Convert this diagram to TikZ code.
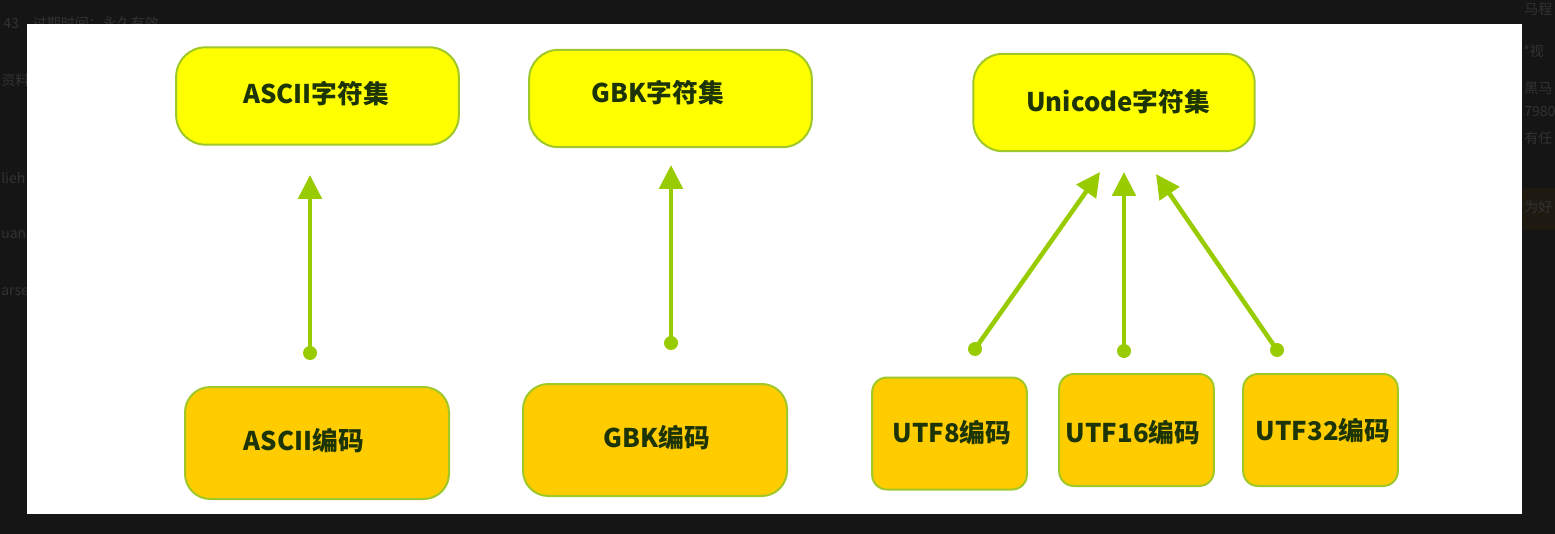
\documentclass[tikz,border=0pt]{standalone}
\usepackage{fontspec}
\setmainfont{Noto Sans CJK SC}
\usetikzlibrary{arrows.meta}
\definecolor{bgdark}{RGB}{21,21,21}
\definecolor{bgbrown}{RGB}{30,26,18}
\definecolor{faint}{RGB}{50,50,50}
\definecolor{setfill}{RGB}{255,255,0}
\definecolor{codefill}{RGB}{255,204,0}
\definecolor{boxline}{RGB}{160,200,40}
\definecolor{arrowgreen}{RGB}{153,204,0}
\definecolor{txtgreen}{RGB}{28,52,6}
\tikzset{
  x=0.75pt, y=-0.75pt,
  setbox/.style={draw=boxline, line width=1.5pt, fill=setfill, rounded corners=22pt, inner sep=0pt},
  codebox/.style={draw=boxline, line width=1.5pt, fill=codefill, rounded corners=19pt, inner sep=0pt},
  utfbox/.style={draw=boxline, line width=1.5pt, fill=codefill, rounded corners=11pt, inner sep=0pt},
  lbl/.style={text=txtgreen, font=\bfseries\fontsize{19.3}{21}\selectfont, inner sep=0pt},
  dotnode/.style={circle, fill=arrowgreen, minimum size=10.5pt, inner sep=0pt},
  conn/.style={draw=arrowgreen, line width=3.4pt, -{Triangle[length=18pt,width=17.5pt]}},
  bgtext/.style={text=faint, font=\fontsize{10.5}{12}\selectfont, inner sep=0pt, anchor=west},
}
\begin{document}
\begin{tikzpicture}
\useasboundingbox (0,0) rectangle (1555,534);
\fill[bgdark] (0,0) rectangle (1555,534);
% faint page text behind the panel
\node[bgtext] (f1) at (3,23) {43\quad 过期时间：永久有效};
\node[bgtext] (f2) at (1,80) {资料};
\node[bgtext] (f3) at (1,178) {lieh};
\node[bgtext] (f4) at (1,235) {uan};
\node[bgtext] (f5) at (1,292) {arse};
\node[bgtext] (f6) at (1524,9) {马程};
\node[bgtext] (f7) at (1523,51) {*视};
\node[bgtext] (f8) at (1524,88) {黑马};
\node[bgtext] (f9) at (1524,112) {7980};
\node[bgtext] (f10) at (1524,138) {有任};
\fill[bgbrown] (1522,188) rectangle (1555,230);
\node[bgtext] (f11) at (1524,207) {为好};
% white panel
\fill[white] (27,24) rectangle (1522,514);
% top boxes
\node[setbox, minimum width=212pt, minimum height=73pt] (asciiset) at (317.5,96) {};
\node[setbox, minimum width=212pt, minimum height=73pt] (gbkset) at (670.5,98.5) {};
\node[setbox, minimum width=211pt, minimum height=73pt] (uniset) at (1114,102.5) {};
\node[lbl] (asciisetl) at (316,94) {ASCII字符集};
\node[lbl] (gbksetl) at (658,93) {GBK字符集};
\node[lbl] (unisetl) at (1118,102) {Unicode字符集};
% bottom boxes
\node[codebox, minimum width=198pt, minimum height=84pt] (asciicode) at (317,443) {};
\node[codebox, minimum width=198pt, minimum height=84pt] (gbkcode) at (655,440) {};
\node[utfbox, minimum width=116pt, minimum height=84pt] (utf8) at (949.5,433.5) {};
\node[utfbox, minimum width=116pt, minimum height=84pt] (utf16) at (1136.5,430) {};
\node[utfbox, minimum width=116pt, minimum height=84pt] (utf32) at (1320.5,430) {};
\node[lbl] (asciicodel) at (304,441) {ASCII编码};
\node[lbl] (gbkcodel) at (657,438) {GBK编码};
\node[lbl] (utf8l) at (952,433) {UTF8编码};
\node[lbl] (utf16l) at (1133,433) {UTF16编码};
\node[lbl] (utf32l) at (1323,431) {UTF32编码};
% connectors
\node[dotnode] (d1) at (310,353) {};
\node[dotnode] (d2) at (671,343) {};
\node[dotnode] (d3) at (975,349) {};
\node[dotnode] (d4) at (1124,351) {};
\node[dotnode] (d5) at (1277,350) {};
\coordinate (t1) at (310,175);
\coordinate (t2) at (671,165);
\coordinate (t3) at (1100,172);
\coordinate (t4) at (1124,172);
\coordinate (t5) at (1156,174);
\draw[conn] (d1.center) -- (t1);
\draw[conn] (d2.center) -- (t2);
\draw[conn] (d3.center) -- (t3);
\draw[conn] (d4.center) -- (t4);
\draw[conn] (d5.center) -- (t5);
\end{tikzpicture}
\end{document}
